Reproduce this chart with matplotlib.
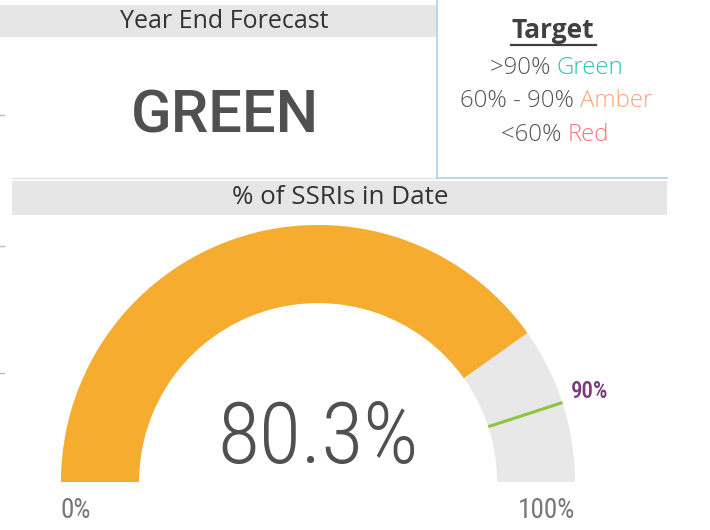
import matplotlib
matplotlib.use("Agg")
import matplotlib.pyplot as plt
from matplotlib.patches import Wedge, Rectangle
import numpy as np

# ---- data ----
gauge_title = "% of SSRIs in Date"
forecast_title = "Year End Forecast"
forecast_status = "GREEN"
gauge_min = 0
gauge_max = 100
gauge_value = 80.3
gauge_target = 90
target_ranges = [">90%", "60% - 90%", "<60%"]
target_names = ["Green", "Amber", "Red"]
target_colors = ["#2EC4B0", "#FFA47A", "#F87575"]

fig = plt.figure(figsize=(7.1, 5.3), dpi=100)
ax = fig.add_axes([0, 0, 1, 1])
ax.set_xlim(0, 710)
ax.set_ylim(530, 0)
ax.set_aspect("equal")
ax.axis("off")

hdr_font = ["Open Sans", "DejaVu Sans"]
din_font = ["Roboto", "DejaVu Sans"]
cond_font = ["Roboto Condensed", "DejaVu Sans"]

# header bars
ax.add_patch(Rectangle((0, 5), 436, 32, facecolor="#E6E6E6", edgecolor="none"))
ax.text(224, 21, forecast_title, ha="center", va="center", fontsize=18,
        family=hdr_font, color="#333333")
ax.add_patch(Rectangle((12, 181), 655, 34, facecolor="#E6E6E6", edgecolor="none"))
ax.text(340, 198, gauge_title, ha="center", va="center", fontsize=18.7,
        family=hdr_font, color="#333333")

# forecast status
ax.text(225, 116, forecast_status, ha="center", va="center", fontsize=43,
        family=din_font, color="#505050", fontweight="medium")
ax.plot([12, 436], [177.5, 177.5], color="#E2E2E2", lw=1)

# target panel borders
ax.plot([437, 437], [0, 178], color="#A8D2E8", lw=1.2)
ax.plot([437, 667], [178, 178], color="#A8D2E8", lw=1.2)

# target legend
ax.text(553, 31, "Target", ha="center", va="center", fontsize=19,
        family=hdr_font, color="#404040", fontweight="bold")
ax.plot([511, 596], [45, 45], color="#404040", lw=1.6)
line_y = [68, 101, 135]
split_x = [557, 580, 568]
for rng, name, col, y, sx in zip(target_ranges, target_names, target_colors, line_y, split_x):
    ax.text(sx, y, rng + " ", ha="right", va="center", fontsize=17.3,
            family=hdr_font, color="#555555", fontweight="light")
    ax.text(sx, y, name, ha="left", va="center", fontsize=17.3,
            family=hdr_font, color=col, fontweight="light")

# small marks on left edge
for y in [115, 246, 373]:
    ax.plot([0, 4], [y, y], color="#BBBBBB", lw=1)

# gauge
cx, cy = 318, 482
r_out, r_in = 257, 179
width = r_out - r_in

def ang(v):
    return 180 - 180 * (v - gauge_min) / (gauge_max - gauge_min)

def wedge(v0, v1, color):
    a0, a1 = ang(v1), ang(v0)
    w = Wedge((cx, cy), r_out, -a1, -a0, width=width, facecolor=color,
              edgecolor="none")
    ax.add_patch(w)

wedge(gauge_min, gauge_max, "#E8E8E8")
wedge(gauge_min, gauge_value, "#F5AC2F")

t = np.deg2rad(ang(gauge_target))
ax.plot([cx + r_in * np.cos(t), cx + r_out * np.cos(t)],
        [cy - r_in * np.sin(t), cy - r_out * np.sin(t)],
        color="#8CC63F", lw=2.2, solid_capstyle="butt")
ax.text(cx + (r_out + 9) * np.cos(t), 392,
        f"{gauge_target}%", ha="left", va="center", fontsize=16.5,
        family=cond_font, color="#7B3A80", fontweight="medium")

big = ax.text(318, 440, f"{gauge_value}%", ha="center", va="center", fontsize=60,
              color="#505050", family=cond_font, fontweight="light")
fig.canvas.draw()
bb = big.get_window_extent(fig.canvas.get_renderer())
big.set_fontsize(60 * 201.0 / bb.width)

ax.text(cx - r_out, 510, f"{gauge_min}%", ha="left", va="center",
        fontsize=19.5, color="#777777", family=cond_font)
ax.text(cx + r_out, 510, f"{gauge_max}%", ha="right", va="center",
        fontsize=19.5, color="#777777", family=cond_font)

fig.savefig("out.png", dpi=100)
